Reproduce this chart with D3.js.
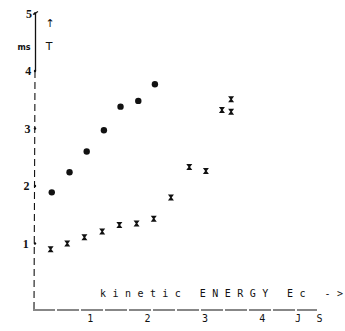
<!DOCTYPE html>
<html>
<head>
<meta charset="utf-8">
<script src="https://cdn.jsdelivr.net/npm/d3@7"></script>
<style>
  body { margin: 0; background: #fff; }
  svg { display: block; }
  text { fill: #111; }
</style>
</head>
<body>
<div id="chart"></div>
<script>
// circles (upper series)
const circleX = [0.31, 0.62, 0.92, 1.22, 1.51, 1.82, 2.11];
const circleY = [1.89, 2.24, 2.60, 2.97, 3.38, 3.48, 3.77];

// crosses (lower series)
const crossX = [0.29, 0.58, 0.88, 1.19, 1.49, 1.79, 2.09, 2.39, 2.71, 3.00, 3.28, 3.44, 3.44];
const crossY = [0.90, 1.00, 1.11, 1.21, 1.32, 1.35, 1.43, 1.80, 2.33, 2.26, 3.32, 3.29, 3.51];

const yTicks = [1, 2, 3, 4, 5];
const xTicks = [1, 2, 3, 4, 5];
const xTickLabels = ['1', '2', '3', '4', 'S'];

const width = 345;
const height = 331;

const x = d3.scaleLinear().domain([0, 5]).range([34, 320.5]);
const y = d3.scaleLinear().domain([0, 5]).range([301, 13.5]);

const svg = d3.select('#chart')
  .append('svg')
  .attr('width', width)
  .attr('height', height);

// y axis: solid near the top, dashed below
svg.append('line')
  .attr('x1', 35.5).attr('x2', 35.5)
  .attr('y1', y(5)).attr('y2', y(4))
  .attr('stroke', '#111').attr('stroke-width', 1.3);
svg.append('line')
  .attr('x1', 35).attr('x2', 34)
  .attr('y1', y(4)).attr('y2', 310)
  .attr('stroke', '#111').attr('stroke-width', 1.1)
  .attr('stroke-dasharray', '7,4');
// small hook at the top
svg.append('path')
  .attr('d', `M${x(0) - 1},${y(5) + 1} L${x(0) + 4},${y(5) - 2}`)
  .attr('stroke', '#111').attr('stroke-width', 1.2).attr('fill', 'none');

// x axis
svg.append('line')
  .attr('x1', 33).attr('x2', 317)
  .attr('y1', 310).attr('y2', 310)
  .attr('stroke', '#111').attr('stroke-width', 1.2)
  .attr('stroke-dasharray', '22,2');

// y tick dots + labels
svg.selectAll('.ytick')
  .data(yTicks)
  .join('circle')
  .attr('cx', 35).attr('cy', d => y(d)).attr('r', 1.2).attr('fill', '#111');
svg.selectAll('.ylabel')
  .data(yTicks)
  .join('text')
  .attr('x', d => 32 - (5 - d) * 0.8)
  .attr('y', d => y(d) + 4)
  .attr('text-anchor', 'end')
  .attr('font-family', 'Liberation Serif')
  .attr('font-weight', 'bold')
  .attr('font-size', 12)
  .text(d => d);

// x tick labels
svg.selectAll('.xlabel')
  .data(xTicks)
  .join('text')
  .attr('x', d => x(d) - 1)
  .attr('y', 322)
  .attr('text-anchor', 'middle')
  .attr('font-family', 'DejaVu Sans Mono')
  .attr('font-size', 10)
  .text((d, i) => xTickLabels[i]);
svg.append('text')
  .attr('x', 298).attr('y', 322)
  .attr('text-anchor', 'middle')
  .attr('font-family', 'DejaVu Sans Mono')
  .attr('font-size', 10)
  .text('J');

// axis titles
svg.append('text')
  .attr('x', 100).attr('y', 297)
  .attr('font-family', 'DejaVu Sans Mono')
  .attr('font-size', 10)
  .attr('textLength', 243)
  .attr('lengthAdjust', 'spacing')
  .text('kinetic ENERGY Ec ->');

svg.append('text')
  .attr('x', 24).attr('y', 50)
  .attr('text-anchor', 'middle')
  .attr('font-family', 'DejaVu Sans')
  .attr('font-weight', 'bold')
  .attr('font-size', 8)
  .text('ms');
svg.append('text')
  .attr('x', 50).attr('y', 27)
  .attr('text-anchor', 'middle')
  .attr('font-family', 'DejaVu Sans')
  .attr('font-size', 11)
  .text('↑');
svg.append('text')
  .attr('x', 49).attr('y', 50)
  .attr('text-anchor', 'middle')
  .attr('font-family', 'DejaVu Sans')
  .attr('font-size', 11)
  .text('T');

// circle points
svg.selectAll('.pt')
  .data(circleX.map((d, i) => [d, circleY[i]]))
  .join('circle')
  .attr('cx', d => x(d[0]))
  .attr('cy', d => y(d[1]))
  .attr('r', 3.2)
  .attr('fill', '#111');

// hourglass cross points
svg.selectAll('.cr')
  .data(crossX.map((d, i) => [d, crossY[i]]))
  .join('path')
  .attr('transform', d => `translate(${x(d[0])},${y(d[1])})`)
  .attr('d', 'M-3,-3 L3,-3 L0.8,0 L3,3 L-3,3 L-0.8,0 Z')
  .attr('fill', '#111');
</script>
</body>
</html>
